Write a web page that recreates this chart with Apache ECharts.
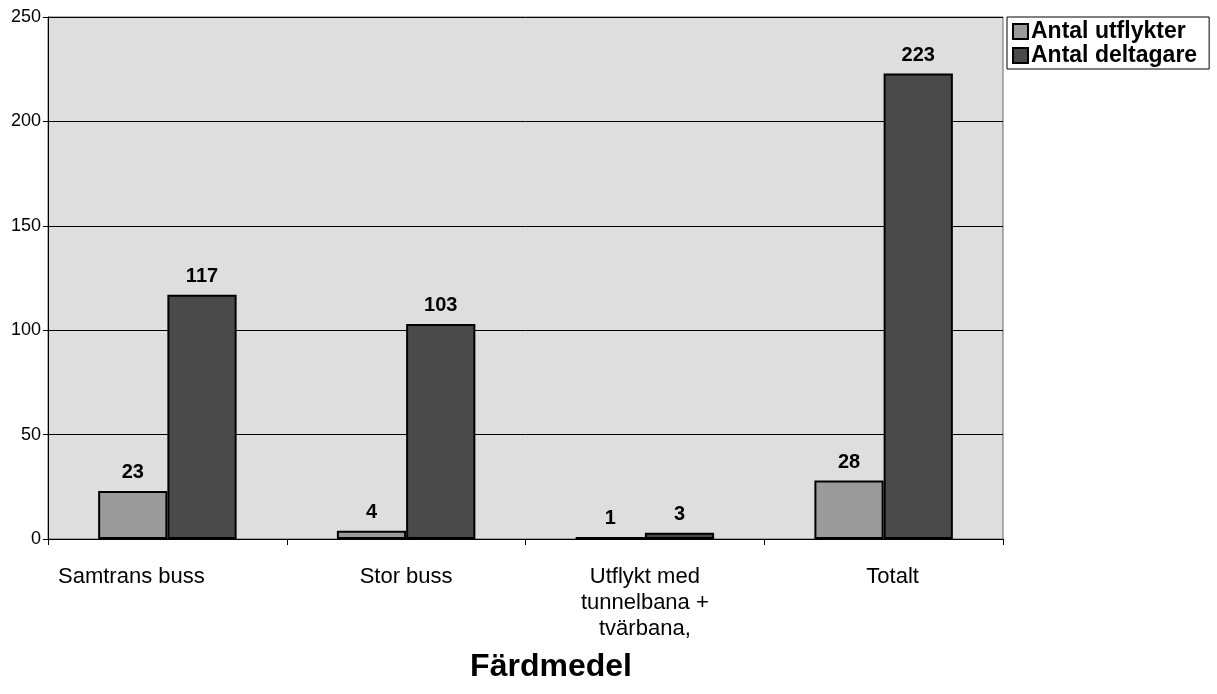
<!DOCTYPE html>
<html>
<head>
<meta charset="utf-8">
<script src="https://cdn.jsdelivr.net/npm/echarts@6/dist/echarts.min.js"></script>
<style>
  html, body { margin: 0; padding: 0; background: #fff; }
  #chart { width: 1217px; height: 694px; }
</style>
</head>
<body>
<div id="chart"></div>
<script>
const categories = ['Samtrans buss', 'Stor buss', 'Utflykt med\ntunnelbana +\ntvärbana,', 'Totalt'];
const utflykter = [23, 4, 1, 28];
const deltagare = [117, 103, 3, 223];
const yTicks = { min: 0, max: 250, interval: 50 };

const FONT = 'Liberation Sans, Arial, sans-serif';

// Excel placed the first and last labels a bit off centre
const labelPadding = [[0, 72, 0, 0], [0, 0, 0, 0], [0, 0, 0, 0], [0, 0, 0, 18]];

const chart = echarts.init(document.getElementById('chart'));

const labelStyle = {
  show: true,
  position: 'top',
  distance: 8,
  color: '#000',
  fontFamily: FONT,
  fontWeight: 'bold',
  fontSize: 20
};

chart.setOption({
  animation: false,
  title: {
    text: 'Färdmedel',
    left: 546,
    top: 646,
    textAlign: 'center',
    textStyle: {
      fontFamily: FONT,
      fontWeight: 'bold',
      fontSize: 32,
      color: '#000'
    }
  },
  legend: {
    orient: 'vertical',
    left: 1007,
    top: 17,
    padding: [3, 12, 2, 5],
    itemGap: 1,
    itemWidth: 15,
    itemHeight: 15,
    borderColor: '#000',
    borderWidth: 1,
    backgroundColor: '#fff',
    textStyle: {
      fontFamily: FONT,
      fontWeight: 'bold',
      fontSize: 23,
      lineHeight: 22,
      color: '#000',
      padding: [0, 0, 0, -2]
    },
    data: [
      { name: 'Antal utflykter', icon: 'rect' },
      { name: 'Antal deltagare', icon: 'rect' }
    ]
  },
  grid: {
    left: 48,
    right: 214,
    top: 17,
    bottom: 155,
    show: true,
    backgroundColor: '#dedede',
    borderColor: '#666',
    borderWidth: 1
  },
  xAxis: {
    type: 'category',
    data: categories.map((c, i) => ({ value: c, textStyle: { padding: labelPadding[i] } })),
    axisLine: { lineStyle: { color: '#000', width: 1 } },
    axisTick: { show: true, length: 6, lineStyle: { color: '#000' } },
    axisLabel: {
      color: '#000',
      fontFamily: FONT,
      fontSize: 22,
      lineHeight: 26,
      margin: 25
    }
  },
  yAxis: {
    type: 'value',
    min: yTicks.min,
    max: yTicks.max,
    interval: yTicks.interval,
    axisLine: { show: true, lineStyle: { color: '#000', width: 1 } },
    axisTick: { show: true, length: 5, lineStyle: { color: '#000' } },
    axisLabel: {
      color: '#000',
      fontFamily: FONT,
      fontSize: 18,
      margin: 7
    },
    splitLine: { lineStyle: { color: '#000', width: 1 } }
  },
  series: [
    {
      name: 'Antal utflykter',
      type: 'bar',
      data: utflykter,
      barGap: '0%',
      barCategoryGap: '42%',
      itemStyle: { color: '#9a9a9a', borderColor: '#000', borderWidth: 2 },
      label: labelStyle
    },
    {
      name: 'Antal deltagare',
      type: 'bar',
      data: deltagare,
      itemStyle: { color: '#4a4a4a', borderColor: '#000', borderWidth: 2 },
      label: labelStyle
    }
  ]
});
</script>
</body>
</html>
